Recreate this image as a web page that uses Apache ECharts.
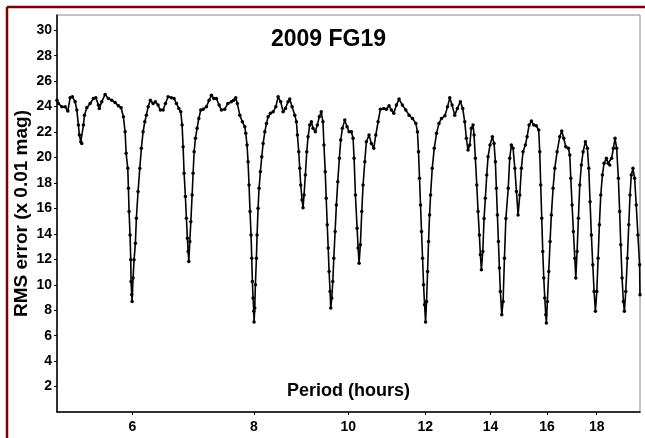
<!DOCTYPE html>
<html lang="en">

<head>
  <meta charset="UTF-8">
  <title>2009 FG19 - period spectrum</title>
  <style>
    html, body { margin: 0; padding: 0; background: #fff; }
    #chart { width: 645px; height: 438px; }
  </style>
</head>

<body>
  <div id="chart"></div>

  <script src="https://cdn.jsdelivr.net/npm/echarts@6.0.0/dist/echarts.min.js"></script>
  <script>
    // period (hours) and RMS residual (0.01 mag)
    const periods = [
      5.020, 5.037, 5.078, 5.118, 5.150, 5.178, 5.206, 5.240, 5.261, 5.281,
      5.293, 5.311, 5.323, 5.344, 5.357, 5.387, 5.429, 5.472, 5.503, 5.536,
      5.549, 5.581, 5.625, 5.669, 5.714, 5.759, 5.805, 5.842, 5.874, 5.898,
      5.912, 5.935, 5.944, 5.953, 5.967, 5.977, 5.981, 5.991, 5.996, 6.010,
      6.024, 6.043, 6.057, 6.081, 6.106, 6.129, 6.154, 6.179, 6.202, 6.228,
      6.261, 6.302, 6.336, 6.376, 6.411, 6.452, 6.488, 6.529, 6.580, 6.622,
      6.659, 6.697, 6.728, 6.749, 6.765, 6.781, 6.802, 6.818, 6.834, 6.846,
      6.857, 6.873, 6.890, 6.911, 6.927, 6.944, 6.965, 6.993, 7.021, 7.054,
      7.093, 7.149, 7.194, 7.234, 7.275, 7.320, 7.367, 7.407, 7.465, 7.522,
      7.583, 7.626, 7.662, 7.691, 7.736, 7.783, 7.828, 7.846, 7.870, 7.889,
      7.907, 7.926, 7.945, 7.958, 7.970, 7.983, 7.996, 8.002, 8.015, 8.027,
      8.046, 8.059, 8.078, 8.097, 8.122, 8.149, 8.175, 8.208, 8.240, 8.272,
      8.317, 8.371, 8.424, 8.470, 8.523, 8.571, 8.618, 8.672, 8.707, 8.755,
      8.811, 8.845, 8.866, 8.894, 8.915, 8.936, 8.964, 8.985, 9.006, 9.034,
      9.064, 9.092, 9.128, 9.163, 9.200, 9.250, 9.293, 9.337, 9.381, 9.418,
      9.440, 9.469, 9.491, 9.514, 9.536, 9.556, 9.578, 9.594, 9.617, 9.640,
      9.663, 9.693, 9.722, 9.754, 9.791, 9.823, 9.861, 9.917, 9.971, 10.018,
      10.073, 10.114, 10.138, 10.170, 10.211, 10.235, 10.259, 10.290, 10.324, 10.356,
      10.398, 10.437, 10.503, 10.561, 10.621, 10.672, 10.730, 10.789, 10.876, 10.944,
      11.012, 11.073, 11.136, 11.205, 11.276, 11.365, 11.458, 11.548, 11.640, 11.734,
      11.778, 11.807, 11.835, 11.864, 11.892, 11.921, 11.949, 11.978, 12.006, 12.034,
      12.063, 12.091, 12.120, 12.149, 12.197, 12.255, 12.322, 12.392, 12.467, 12.568,
      12.646, 12.713, 12.783, 12.864, 12.944, 13.035, 13.110, 13.172, 13.222, 13.275,
      13.329, 13.379, 13.434, 13.466, 13.507, 13.553, 13.594, 13.636, 13.668, 13.701,
      13.747, 13.788, 13.830, 13.876, 13.919, 13.984, 14.061, 14.118, 14.162, 14.196,
      14.230, 14.264, 14.298, 14.330, 14.378, 14.423, 14.469, 14.518, 14.600, 14.651,
      14.707, 14.768, 14.829, 14.886, 14.944, 15.004, 15.060, 15.120, 15.203, 15.265,
      15.338, 15.421, 15.510, 15.603, 15.691, 15.729, 15.766, 15.804, 15.842, 15.880,
      15.918, 15.955, 15.978, 16.016, 16.069, 16.118, 16.168, 16.234, 16.299, 16.388,
      16.492, 16.570, 16.649, 16.728, 16.833, 16.888, 16.928, 16.980, 17.033, 17.089,
      17.130, 17.182, 17.236, 17.292, 17.357, 17.428, 17.524, 17.606, 17.664, 17.718,
      17.773, 17.832, 17.888, 17.943, 18.003, 18.058, 18.113, 18.173, 18.243, 18.316,
      18.416, 18.490, 18.563, 18.646, 18.722, 18.797, 18.869, 18.945, 19.003, 19.053,
      19.112, 19.171, 19.217, 19.280, 19.353, 19.417, 19.475, 19.534, 19.611, 19.689,
      19.763, 19.841, 19.921, 19.940
    ];
    const rms = [
      24.50, 24.25, 23.98, 23.98, 23.65, 24.69, 24.77, 24.38, 23.73, 22.55,
      21.76, 21.24, 21.11, 22.55, 23.33, 23.91, 24.25, 24.64, 24.69, 24.12,
      23.86, 24.38, 24.96, 24.64, 24.51, 24.33, 24.06, 23.91, 23.20, 22.02,
      20.33, 19.15, 17.58, 15.75, 13.92, 11.96, 10.26, 9.22, 8.69, 10.53,
      11.96, 13.27, 15.23, 17.32, 19.15, 20.72, 22.02, 22.81, 23.33, 23.98,
      24.51, 24.25, 24.38, 24.12, 23.73, 23.73, 24.25, 24.77, 24.69, 24.64,
      24.25, 23.86, 23.59, 22.55, 20.85, 18.76, 16.93, 15.23, 13.66, 12.61,
      11.83, 13.40, 14.96, 17.06, 18.76, 20.45, 21.51, 22.29, 23.07, 23.73,
      23.80, 23.98, 24.51, 24.90, 24.64, 24.64, 24.12, 23.73, 23.80, 24.25,
      24.38, 24.51, 24.69, 24.25, 23.33, 22.81, 22.42, 21.90, 20.98, 19.67,
      17.84, 15.75, 13.92, 12.09, 10.26, 8.96, 7.91, 7.07, 8.17, 10.00,
      12.09, 13.92, 16.02, 17.58, 18.89, 20.06, 21.11, 22.02, 22.68, 23.20,
      23.47, 23.59, 23.98, 24.77, 24.38, 23.59, 23.86, 24.38, 24.59, 23.98,
      23.33, 22.81, 21.76, 20.45, 19.15, 17.84, 16.67, 16.06, 17.06, 18.63,
      20.45, 21.63, 22.55, 22.81, 22.29, 22.02, 22.55, 23.20, 23.59, 22.81,
      20.98, 18.89, 16.80, 14.71, 12.88, 11.04, 9.47, 8.17, 8.96, 10.26,
      12.09, 14.18, 16.27, 18.10, 19.94, 21.37, 22.29, 22.94, 22.42, 22.02,
      22.02, 21.51, 19.94, 17.06, 14.45, 12.88, 11.70, 13.14, 15.75, 17.84,
      19.67, 21.24, 21.76, 21.11, 20.72, 21.76, 22.81, 23.80, 23.86, 23.80,
      24.06, 23.73, 23.47, 24.12, 24.59, 24.12, 23.73, 23.33, 23.07, 22.68,
      22.02, 20.45, 18.37, 16.27, 14.18, 12.09, 10.00, 8.43, 7.07, 8.69,
      11.04, 13.40, 15.49, 17.06, 19.15, 20.72, 21.90, 22.68, 23.07, 23.28,
      23.98, 24.69, 24.12, 23.33, 23.86, 24.38, 23.86, 22.81, 21.51, 20.59,
      20.98, 22.29, 22.55, 21.76, 19.94, 17.84, 15.75, 13.92, 12.35, 11.18,
      12.61, 15.20, 16.80, 18.63, 20.06, 20.98, 21.63, 21.11, 19.67, 17.58,
      15.49, 13.40, 11.31, 9.47, 7.65, 8.69, 12.09, 15.20, 17.58, 19.94,
      20.98, 20.72, 19.15, 17.32, 15.49, 17.06, 19.15, 20.45, 20.98, 21.63,
      22.55, 22.86, 22.55, 22.49, 22.16, 20.45, 17.84, 15.23, 12.61, 10.53,
      8.96, 7.65, 7.00, 8.69, 11.04, 13.40, 15.49, 17.58, 19.15, 20.45,
      21.63, 22.08, 21.51, 20.85, 20.72, 20.20, 18.37, 16.27, 14.18, 12.09,
      10.53, 12.61, 15.23, 17.84, 19.41, 20.45, 21.24, 20.72, 19.15, 16.53,
      13.92, 11.57, 9.47, 7.91, 9.47, 12.09, 14.71, 17.06, 18.63, 19.55,
      19.94, 19.55, 19.41, 19.94, 20.72, 21.51, 20.72, 18.37, 15.75, 13.14,
      10.53, 8.69, 7.91, 9.47, 12.09, 14.71, 17.06, 18.63, 19.15, 18.37,
      16.27, 13.92, 11.57, 9.22
    ];
    const periodTicks = [6, 8, 10, 12, 14, 16, 18];
    const periodRange = [5.02, 19.94];
    const rmsTicks = [2, 4, 6, 8, 10, 12, 14, 16, 18, 20, 22, 24, 26, 28, 30];

    const FONT = 'Liberation Sans, Arial, sans-serif';

    window.onload = () => {
      let dom = document.getElementById('chart');
      let chart = echarts.init(dom);

      // the period axis is logarithmic: plot ln(P) on a value axis
      let data = periods.map((p, i) => [Math.log(p), rms[i]]);

      let option = {
        animation: false,
        backgroundColor: '#fff',
        title: {
          text: '2009 FG19',
          left: 266,
          top: 23,
          textStyle: { fontFamily: FONT, fontSize: 23, fontWeight: 'bold', color: '#000' }
        },
        grid: {
          left: 57, right: 5, top: 15, bottom: 26,
          show: true,
          borderColor: '#888',
          borderWidth: 1
        },
        xAxis: {
          type: 'value',
          min: Math.log(periodRange[0]),
          max: Math.log(periodRange[1]),
          name: 'Period (hours)',
          nameLocation: 'middle',
          nameGap: -30,
          nameMoveOverlap: false,
          nameTextStyle: { fontFamily: FONT, fontSize: 18, fontWeight: 'bold', color: '#000' },
          splitLine: { show: false },
          axisLine: { lineStyle: { color: '#000', width: 1.5 } },
          axisTick: {
            customValues: periodTicks.map(p => Math.log(p)),
            length: 3,
            lineStyle: { color: '#000' }
          },
          axisLabel: {
            customValues: periodTicks.map(p => Math.log(p)),
            formatter: v => String(Math.round(Math.exp(v))),
            margin: 8,
            fontFamily: FONT, fontSize: 14, fontWeight: 'bold', color: '#000'
          }
        },
        yAxis: {
          type: 'value',
          min: 0,
          max: 31.2,
          interval: 2,
          name: 'RMS error (x 0.01 mag)',
          nameLocation: 'middle',
          nameGap: 26,
          nameMoveOverlap: false,
          nameTextStyle: { fontFamily: FONT, fontSize: 19, fontWeight: 'bold', color: '#000' },
          splitLine: { show: false },
          axisLine: { show: true, lineStyle: { color: '#000', width: 1.5 } },
          axisTick: { show: true, customValues: rmsTicks, length: 3, lineStyle: { color: '#000' } },
          axisLabel: {
            customValues: rmsTicks,
            margin: 5,
            fontFamily: FONT, fontSize: 14, fontWeight: 'bold', color: '#000'
          }
        },
        // dark red frame around the figure (top and left edges)
        graphic: [
          { type: 'line', shape: { x1: 7, y1: 7, x2: 645, y2: 7 }, style: { stroke: '#800000', lineWidth: 2.5 } },
          { type: 'line', shape: { x1: 7, y1: 7, x2: 7, y2: 438 }, style: { stroke: '#800000', lineWidth: 2.5 } }
        ],
        series: [{
          type: 'line',
          data: data,
          symbol: 'circle',
          symbolSize: 3.5,
          showAllSymbol: true,
          itemStyle: { color: '#000' },
          lineStyle: { color: '#000', width: 1.6 },
          clip: true
        }]
      };

      chart.setOption(option);
    };
  </script>
</body>

</html>
